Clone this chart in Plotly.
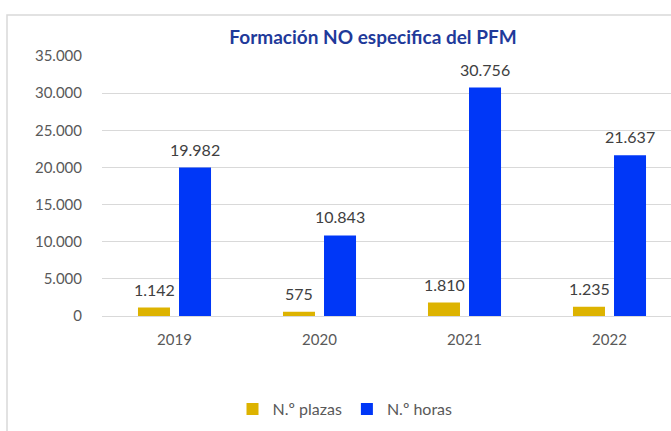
import plotly.graph_objects as go

years = ["2019", "2020", "2021", "2022"]
plazas = [1142, 575, 1810, 1235]
horas = [19982, 10843, 30756, 21637]
series_names = ["N.º plazas", "N.º horas"]
y_ticks = [0, 5000, 10000, 15000, 20000, 25000, 30000, 35000]

W, H = 671, 431
L, R, T, B = 102, 0, 56, 115
plot_w = W - L - R
plot_h = H - T - B
band = 145
offset = 20.5  # half of a bar slot in px

def px_x(x):
    return (x - L) / plot_w

def px_y(y):
    return (H - B - y) / plot_h

def fmt(v):
    return f"{v:,d}".replace(",", ".")

fig = go.Figure()
fig.add_trace(go.Bar(x=years, y=plazas, name=series_names[0], marker_color="#DDB300",
                     marker_line_width=0))
fig.add_trace(go.Bar(x=years, y=horas, name=series_names[1], marker_color="#0037F7",
                     marker_line_width=0))

annotations = []
for series, shift in ((plazas, -offset), (horas, offset)):
    for i, v in enumerate(series):
        annotations.append(dict(x=i, y=v, xref="x", yref="y", text=fmt(v), showarrow=False,
                                xshift=shift, yshift=7, yanchor="bottom", xanchor="center",
                                font=dict(family="Lato", size=16, color="#404040")))

fig.update_layout(
    width=W, height=H,
    margin=dict(l=L, r=R, t=T, b=B, pad=0),
    paper_bgcolor="white", plot_bgcolor="white",
    separators=",.",
    barmode="group", bargap=0.434, bargroupgap=0.22,
    font=dict(family="Lato", size=15, color="#595959"),
    title=dict(text="<b>Formación NO especifica del PFM</b>", x=373 / W, xanchor="center",
               y=1 - 37 / H, yanchor="middle",
               font=dict(family="Lato", size=19, color="#1F3A9A")),
    showlegend=True,
    legend=dict(orientation="h", x=px_x(345), xanchor="center", y=px_y(409), yanchor="middle",
                font=dict(family="Lato", size=16, color="#595959"), itemwidth=30,
                traceorder="normal"),
    xaxis=dict(type="category", range=[-0.5, -0.5 + plot_w / band], showgrid=False,
               showline=False, zeroline=False, ticks="outside", ticklen=10,
               tickcolor="rgba(0,0,0,0)", tickfont=dict(family="Lato", size=15, color="#595959")),
    yaxis=dict(range=[0, 35000], tickvals=y_ticks, tickformat=",d", showgrid=True,
               gridcolor="#D9D9D9", gridwidth=1, zeroline=True, zerolinecolor="#D9D9D9",
               zerolinewidth=1, showline=False, ticks="outside", ticklen=16,
               tickcolor="rgba(0,0,0,0)", tickfont=dict(family="Lato", size=15, color="#595959")),
    annotations=annotations,
    shapes=[dict(type="rect", xref="paper", yref="paper",
                 x0=px_x(7), x1=px_x(700), y0=px_y(460), y1=px_y(15),
                 line=dict(color="#D9D9D9", width=1.5), fillcolor="rgba(0,0,0,0)", layer="below")],
)

fig.write_html("out.html", config={"displayModeBar": False},
               post_script="document.body.style.margin='0';")
